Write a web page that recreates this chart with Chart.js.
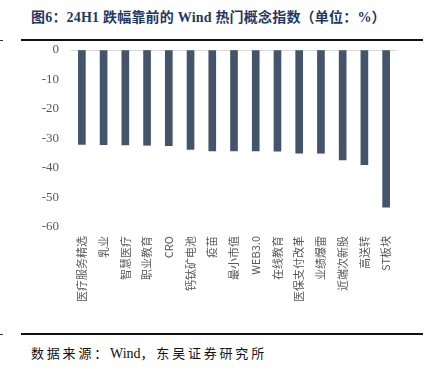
<!DOCTYPE html>
<html>
<head>
    <meta charset="utf-8">
    <title>24H1 跌幅靠前的 Wind 热门概念指数</title>
    <script src="https://cdn.jsdelivr.net/npm/chart.js"></script>
    <style>
        body { margin: 0; width: 432px; height: 369px; position: relative; background: #fff; overflow: hidden; }
        #title { position: absolute; left: 31px; top: 6px; font: bold 14px "Liberation Serif", "Noto Sans CJK SC", serif; color: #1f3864; white-space: nowrap; letter-spacing: 0.2px; }
        .rule { position: absolute; left: 21px; width: 402px; height: 2px; background: #111; }
        .tick { position: absolute; left: 0; width: 3px; height: 1px; background: #333; }
        #source { position: absolute; left: 31px; top: 343px; font: 13px "Liberation Serif", "Noto Sans CJK SC", serif; color: #111; white-space: nowrap; letter-spacing: 2.8px; }
        #source span { font-size: 14px; letter-spacing: 0; }
        #wrap { position: absolute; left: 0; top: 0; width: 432px; height: 369px; }
    </style>
</head>
<body>
    <div id="title">图6：24H1 跌幅靠前的 Wind 热门概念指数（单位：%）</div>
    <div class="rule" style="top:39px"></div>
    <div class="tick" style="top:40px"></div>
    <div class="rule" style="top:333px"></div>
    <div class="tick" style="top:334px"></div>
    <div id="source">数据来源：<span>Wind</span>，东吴证券研究所</div>
    <div id="wrap"><canvas id="myChart" width="432" height="369"></canvas></div>
    <script>
        // categories and values (%)
        var categories = ['医疗服务精选', '乳业', '智慧医疗', '职业教育', 'CRO', '钙钛矿电池', '疫苗', '最小市值',
            'WEB3.0', '在线教育', '医保支付改革', '业绩爆雷', '近端次新股', '高送转', 'ST板块'];
        var values = [-32.0, -32.1, -32.2, -32.3, -32.4, -33.7, -34.2, -34.2,
            -34.2, -34.3, -35.0, -35.0, -37.3, -38.9, -53.3];
        var yTicks = [0, -10, -20, -30, -40, -50, -60];

        var ctx = document.getElementById('myChart').getContext('2d');
        var myChart = new Chart(ctx, {
            type: 'bar',
            data: {
                labels: categories,
                datasets: [{
                    data: values,
                    backgroundColor: '#44546a',
                    barThickness: 7
                }]
            },
            options: {
                responsive: false,
                animation: false,
                layout: { padding: { top: 50, right: 35, left: 0, bottom: 0 } },
                plugins: { legend: { display: false }, tooltip: { enabled: false } },
                scales: {
                    x: {
                        grid: { display: false },
                        border: { display: false },
                        ticks: {
                            maxRotation: 90,
                            minRotation: 90,
                            autoSkip: false,
                            padding: 1,
                            color: '#595959',
                            font: { family: '"Noto Sans CJK SC", "Liberation Serif"', size: 11 }
                        },
                        afterFit: function (scale) { scale.height = 142; }
                    },
                    y: {
                        min: -60,
                        max: 0,
                        afterBuildTicks: function (scale) {
                            scale.ticks = yTicks.map(function (v) { return { value: v }; });
                        },
                        grid: {
                            drawTicks: false,
                            color: function (c) { return c.tick && c.tick.value === 0 ? '#d9d9d9' : 'rgba(0,0,0,0)'; }
                        },
                        border: { display: false },
                        ticks: {
                            padding: 12,
                            color: '#595959',
                            font: { family: '"Liberation Serif", serif', size: 13 }
                        },
                        afterFit: function (scale) { scale.width = 71; }
                    }
                }
            }
        });
    </script>
</body>
</html>
